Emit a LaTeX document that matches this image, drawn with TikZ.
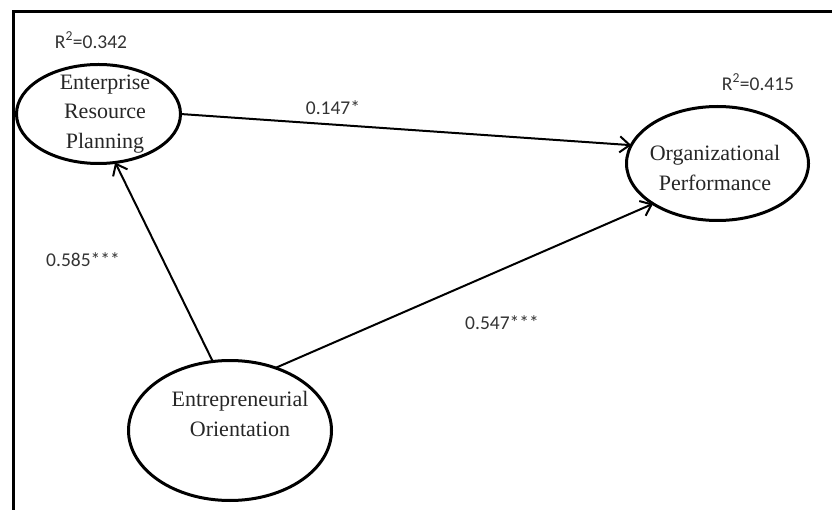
\documentclass[tikz,border=0pt]{standalone}
\usepackage{fontspec}
\setmainfont{Liberation Serif}
\newfontfamily\numfont{Carlito}
\usetikzlibrary{shapes.geometric,arrows.meta}
\begin{document}
\begin{tikzpicture}[x=1pt,y=-1pt,
  construct/.style={ellipse, draw, line width=3pt, inner sep=0pt, outer sep=0pt},
  cname/.style={align=center, font=\fontsize{22}{29.5}\selectfont, inner sep=0pt, text=black!85},
  coef/.style={font=\numfont\fontsize{19.5}{23}\selectfont, inner sep=0pt, text=black!80},
  pathline/.style={line width=2pt, -{Straight Barb[length=10pt,width=16pt]}},
  frameline/.style={line width=3pt, line join=miter}]
\useasboundingbox (0,0) rectangle (832,510);
\draw[frameline] (13,512) -- (13,11.5) -- (834,11.5);

\node[construct, minimum width=164pt, minimum height=99pt] (ERP) at (98.5,114) {};
\node[construct, minimum width=182pt, minimum height=114pt] (OP) at (717.5,163.5) {};
\node[construct, minimum width=203pt, minimum height=140pt] (EO) at (230,430.5) {};

\node[cname] (ERPt) at (105,114) {Enterprise\\Resource\\Planning};
\node[cname] (OPt) at (715,168) {Organizational\\Performance};
\node[cname] (EOt) at (240,414) {Entrepreneurial\\Orientation};

\node[coef] (r1) at (91,40) {R\textsuperscript{2}=0.342};
\node[coef] (r2) at (758,82) {R\textsuperscript{2}=0.415};
\node[coef] (c1) at (333,108) {0.147*};
\node[coef] (c2) at (502,323) {0.547***};
\node[coef] (c3) at (83,260) {0.585***};

\draw[pathline] (ERP.east) -- (OP.168);
\draw[pathline] (EO.54) -- (OP.212);
\draw[pathline] (EO.104) -- (ERP.289);
\end{tikzpicture}
\end{document}
